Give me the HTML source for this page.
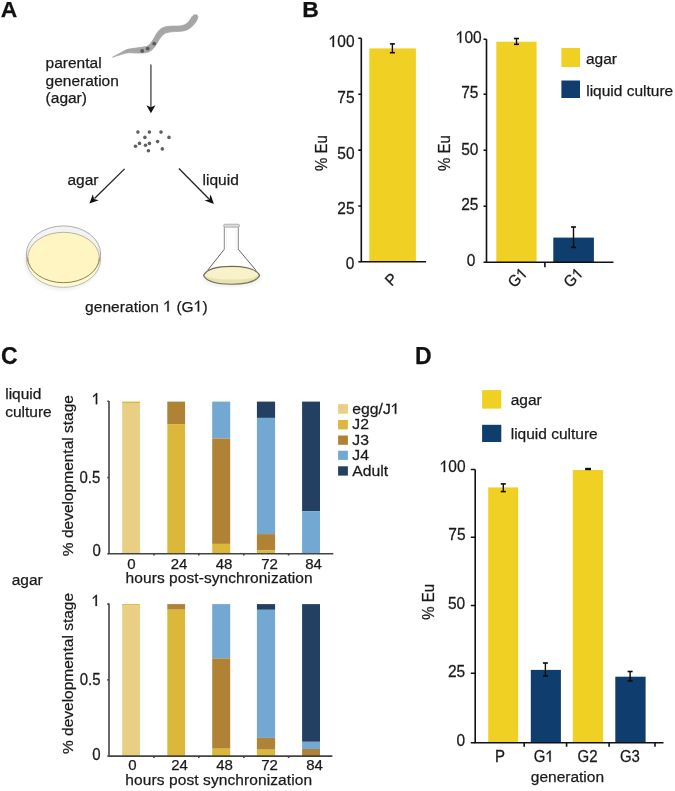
<!DOCTYPE html>
<html><head><meta charset="utf-8">
<style>
html,body{margin:0;padding:0;background:#fff;}
body{width:675px;height:791px;overflow:hidden;}
svg{display:block;filter:blur(0.3px);}
text{font-family:"Liberation Sans",sans-serif;fill:#1a1a1a;stroke:#1a1a1a;stroke-width:0.25px;}
.b{font-weight:bold;font-size:23px;fill:#111;}
.t{font-size:15.5px;}
.k{font-size:15.5px;}
.l{font-size:15px;}
.h{fill:none !important;stroke:none !important;}
</style></head>
<body>
<svg width="675" height="791" viewBox="0 0 675 791">
<defs><filter id="sh" x="-20%" y="-20%" width="140%" height="140%"><feGaussianBlur stdDeviation="1.6"/></filter></defs>
<!-- Panel labels -->
<text class="b" x="0.8" y="16.8" style="font-size:22.9px">A</text>
<text class="b" x="302.3" y="16.7" style="font-size:22.9px">B</text>
<text class="b" x="1.1" y="363.5">C</text>
<text class="b" x="415" y="363.7">D</text>

<!-- ============ PANEL A ============ -->
<!-- worm -->
<path d="M112.5,57.2 C118,54.5 122,52 126.7,49.6 C131,48.4 141,47.6 146.3,46.6 C149,45.8 151,43 153.6,38.9 C155.5,35.5 157,32.5 158.5,31 C160,29.2 162,27.8 165,26.9 C169,25.9 174,26.1 177,26.1 C181,26.1 184,25.3 186.3,23.8 C188.7,22.2 190.2,19.5 192.2,16.4 C193.2,15 194.8,14.6 195.9,14.7 C197.5,14.9 198.3,16.2 197.8,17.6 C197,20.5 195.5,23 193.5,25 C191.5,27.2 189,29 186,30.2 C183,31.3 179,31.4 174.4,31.6 C170,31.8 166,32.5 163.9,34.1 C161.5,36 159.5,39 157.8,41.8 C156,45 154.5,47.8 151.5,50.2 C148.5,52.6 145,53 140.6,53.1 C135,53.1 131,52.6 128.4,52.8 C124,53.3 120,55 112.5,57.2 Z" fill="#a6a6a6" stroke="#a6a6a6" stroke-width="0.8" stroke-linejoin="round"/>
<circle cx="142.2" cy="50.9" r="1.9" fill="#5a5a5a"/>
<circle cx="147.7" cy="48.6" r="1.9" fill="#5a5a5a"/>
<circle cx="154.2" cy="43.6" r="1.9" fill="#5a5a5a"/>

<text transform="translate(45.6,67.6)" class="t">parental</text>
<text transform="translate(45.6,86.2)" class="t">generation</text>
<text transform="translate(45.6,103.2)" class="t">(agar)</text>

<!-- vertical arrow -->
<line x1="150.9" y1="64.4" x2="150.9" y2="107" stroke="#666" stroke-width="1.6"/>
<path d="M146.4,105.3 L150.9,113.2 L155.5,105.3 L150.9,107.3 Z" fill="#111"/>

<!-- eggs -->
<g fill="#606060">
<circle cx="137.9" cy="132.1" r="1.8"/>
<circle cx="149.4" cy="132.1" r="1.8"/>
<circle cx="161" cy="132.1" r="1.8"/>
<circle cx="144.9" cy="137.4" r="1.8"/>
<circle cx="169" cy="137.4" r="1.8"/>
<circle cx="157.6" cy="141.6" r="1.8"/>
<circle cx="139.5" cy="143.4" r="1.8"/>
<circle cx="149.4" cy="143.4" r="1.8"/>
<circle cx="145.5" cy="145.3" r="1.8"/>
<circle cx="135.5" cy="146.2" r="1.8"/>
<circle cx="162.3" cy="148.9" r="1.8"/>
<circle cx="148.4" cy="150.8" r="1.8"/>
</g>

<!-- diagonal arrows -->
<line x1="124.6" y1="168.9" x2="94.5" y2="198.5" stroke="#222" stroke-width="1.3"/>
<path d="M89.4,203.6 L92.85,194.3 L94.0,199.0 L98.75,200.3 Z" fill="#111"/>
<line x1="178.9" y1="168.5" x2="208.8" y2="198.8" stroke="#222" stroke-width="1.3"/>
<path d="M213.9,203.9 L204.6,200.45 L209.3,199.3 L210.6,194.55 Z" fill="#111"/>

<text transform="translate(67.5,184.8)" class="t">agar</text>
<text transform="translate(202.6,184.7)" class="t">liquid</text>

<!-- petri dish -->
<ellipse cx="62.5" cy="261" rx="38.5" ry="29.5" fill="#000" opacity="0.05" filter="url(#sh)"/>
<ellipse cx="63.5" cy="259.3" rx="37.1" ry="28.1" fill="#fdf8d2" stroke="#b8b6a8" stroke-width="0.9"/>
<ellipse cx="63.5" cy="254" rx="37.1" ry="28.1" fill="#f3f3f1" stroke="#a6a6a6" stroke-width="0.9"/>
<ellipse cx="63.5" cy="257.5" rx="35.8" ry="25.2" fill="#fff5c3"/>
<path d="M27.7,257.5 A35.8,25.2 0 0 1 99.3,257.5" fill="none" stroke="#a9a9a6" stroke-width="0.9"/>
<path d="M27.7,257.5 A35.8,25.2 0 0 0 99.3,257.5" fill="none" stroke="#87845f" stroke-width="1"/>
<!-- flask -->
<ellipse cx="231.6" cy="279" rx="29" ry="8" fill="#000" opacity="0.06" filter="url(#sh)"/>
<path d="M224.3,227.2 L224.3,249.3 M238.3,227.2 L238.3,249.3" fill="none" stroke="#7a7a7a" stroke-width="0.9"/>
<path d="M224.3,249.3 L207.6,270.3 M238.3,249.3 L256,270.3" fill="none" stroke="#4e4e4e" stroke-width="0.9"/>
<path d="M226.6,229 V248 M236,229 V248" stroke="#f0f0f0" stroke-width="0.9"/>
<rect x="223.6" y="224.2" width="16" height="3" rx="1.4" fill="#dadada" stroke="#8f8f8f" stroke-width="0.6"/>
<path d="M203.5,275.5 C207,268.2 220,266.4 231.6,266.4 C243,266.4 256,268.2 259.7,275.5 C256,282.3 244,284.2 231.6,284.2 C219,284.2 207,282.3 203.5,275.5 Z" fill="#e8e2ad" stroke="#6f6d5a" stroke-width="1.1"/>
<path d="M205.2,275 C208,268.9 220,267.4 231.6,267.4 C243,267.4 255,268.9 258,275 C255,278.6 244,279.5 231.6,279.5 C219,279.5 208.2,278.6 205.2,275 Z" fill="#f7f2c9"/>
<text transform="translate(85,311.6)" class="t" textLength="122.6" lengthAdjust="spacing">generation <tspan class="h">1</tspan> (G<tspan class="h">1</tspan>)</text>

<!-- ============ PANEL B ============ -->
<!-- left chart -->
<rect x="369.3" y="48.4" width="46.6" height="213.3" fill="#efd023"/>
<g stroke="#111" stroke-width="1.6" fill="none">
<path d="M361.3,38.2 L361.3,261.7 L426.1,261.7"/>
<path d="M358.3,38.2 H361.3 M358.3,94.2 H361.3 M358.3,150.1 H361.3 M358.3,206 H361.3 M358.3,261.7 H361.3"/>
</g>
<path d="M392.40,43.90 V52.70" stroke="#0d0d0d" stroke-width="1.40"/><rect x="389.90" y="43.10" width="5.00" height="1.60" fill="#0d0d0d"/><rect x="389.90" y="51.90" width="5.00" height="1.60" fill="#0d0d0d"/>
<g class="k" text-anchor="end">
<text transform="translate(354.5,47.1) scale(1,1.06)"><tspan class="h">1</tspan>00</text>
<text transform="translate(354.5,103.1) scale(1,1.06)">75</text>
<text transform="translate(354.5,158.5) scale(1,1.06)">50</text>
<text transform="translate(354.5,213.8) scale(1,1.06)">25</text>
<text transform="translate(354.5,269.1) scale(1,1.06)">0</text>
</g>
<text class="l" transform="translate(327,153) rotate(-90) scale(1,1.06)" text-anchor="middle">% Eu</text>
<text class="l" transform="translate(391.3,279.5) rotate(-45) scale(1,1.06)" text-anchor="middle" dy="5">P</text>

<!-- right chart -->
<rect x="496.3" y="41.7" width="40.3" height="220.5" fill="#efd023"/>
<rect x="553.3" y="237.6" width="40.6" height="24.6" fill="#0f3d6d"/>
<g stroke="#111" stroke-width="1.6" fill="none">
<path d="M486.5,39.2 L486.5,262.3 L613.5,262.3"/>
<path d="M483.5,39.2 H486.5 M483.5,94.3 H486.5 M483.5,150.3 H486.5 M483.5,206.3 H486.5 M483.5,262.3 H486.5"/>
<path d="M544.9,262.3 V267.3"/>
</g>
<path d="M516.50,38.50 V44.30" stroke="#0d0d0d" stroke-width="1.40"/><rect x="514.00" y="37.70" width="5.00" height="1.60" fill="#0d0d0d"/><rect x="514.00" y="43.50" width="5.00" height="1.60" fill="#0d0d0d"/>
<path d="M573.50,227.00 V247.40" stroke="#0d0d0d" stroke-width="1.40"/><rect x="571.00" y="226.20" width="5.00" height="1.60" fill="#0d0d0d"/><rect x="571.00" y="246.60" width="5.00" height="1.60" fill="#0d0d0d"/>
<g class="k" text-anchor="end">
<text transform="translate(481.7,42.7) scale(1,1.06)"><tspan class="h">1</tspan>00</text>
<text transform="translate(478.4,97.9) scale(1,1.06)">75</text>
<text transform="translate(478.4,155) scale(1,1.06)">50</text>
<text transform="translate(478.4,209.9) scale(1,1.06)">25</text>
<text transform="translate(475.3,266.1) scale(1,1.06)">0</text>
</g>
<text class="l" transform="translate(449.5,153) rotate(-90) scale(1,1.06)" text-anchor="middle">% Eu</text>
<text class="l" transform="translate(517.5,277.7) rotate(-45) scale(1,1.06)" text-anchor="middle" dy="5">G<tspan class="h">1</tspan></text>
<text class="l" transform="translate(573.3,277.7) rotate(-45) scale(1,1.06)" text-anchor="middle" dy="5">G<tspan class="h">1</tspan></text>

<!-- legend B -->
<rect x="561.4" y="48" width="18.6" height="19" fill="#efd023"/>
<rect x="561.4" y="80.5" width="18.6" height="17.5" fill="#0f3d6d"/>
<text transform="translate(586,63.9)" class="t">agar</text>
<text transform="translate(586.2,95.8)" class="t">liquid culture</text>

<!-- ============ PANEL C ============ -->
<text transform="translate(5.2,398.7)" class="t">liquid</text>
<text transform="translate(5.2,417.3)" class="t">culture</text>
<text transform="translate(11.7,584.7)" class="t">agar</text>

<!-- top chart bars -->
<g>
<rect x="122.2" y="401.6" width="17.8" height="1.5" fill="#dcb83a"/>
<rect x="122.2" y="403" width="17.8" height="150.5" fill="#e9cf84"/>

<rect x="167.3" y="401.6" width="17.8" height="22.5" fill="#b08236"/>
<rect x="167.3" y="424.1" width="17.8" height="129.4" fill="#dcb83a"/>

<rect x="212.2" y="401.6" width="18" height="36.9" fill="#73a8d3"/>
<rect x="212.2" y="438.5" width="18" height="105.4" fill="#b08236"/>
<rect x="212.2" y="543.9" width="18" height="9.6" fill="#dcb83a"/>

<rect x="256.9" y="401.6" width="18.2" height="16.3" fill="#233f61"/>
<rect x="256.9" y="417.9" width="18.2" height="116.2" fill="#73a8d3"/>
<rect x="256.9" y="534.1" width="18.2" height="16.4" fill="#b08236"/>
<rect x="256.9" y="550.5" width="18.2" height="3" fill="#dcb83a"/>

<rect x="302.1" y="401.6" width="17.9" height="109.6" fill="#233f61"/>
<rect x="302.1" y="511.2" width="17.9" height="42.3" fill="#73a8d3"/>
</g>
<g stroke="#444" stroke-width="1.6" fill="none">
<path d="M109,401.1 L109,553.7 L333.3,553.7"/>
<path d="M107.3,401.3 H109 M107.3,477.5 H109 M107.3,553.7 H109"/>
<path d="M154,553.7 V555.6 M198.8,553.7 V555.6 M243.8,553.7 V555.6 M288.6,553.7 V555.6"/>
</g>
<g class="l" text-anchor="end">
<text transform="translate(100.3,404.2) scale(1,1.06)"><tspan class="h">1</tspan></text>
<text transform="translate(100.3,483.4) scale(1,1.06)">0.5</text>
<text transform="translate(100.8,556.4) scale(1,1.06)">0</text>
</g>
<g class="l" text-anchor="middle">
<text transform="translate(131.5,568.7)">0</text>
<text transform="translate(179.1,568.7)">24</text>
<text transform="translate(224,568.7)">48</text>
<text transform="translate(269.5,568.7)">72</text>
<text transform="translate(313.5,568.7)">84</text>
</g>
<text transform="translate(125.6,583)" class="t" textLength="187" lengthAdjust="spacing">hours post-synchronization</text>
<text class="t" transform="translate(73.1,475.6) rotate(-90)" text-anchor="middle">% developmental stage</text>

<!-- legend C -->
<rect x="338.1" y="404.1" width="9.8" height="9.6" fill="#e9cf84"/>
<rect x="338.1" y="420" width="9.8" height="9.4" fill="#dcb83a"/>
<rect x="338.1" y="435.5" width="9.8" height="9.3" fill="#b08236"/>
<rect x="338.1" y="450.7" width="9.8" height="9.2" fill="#73a8d3"/>
<rect x="338.1" y="466.3" width="9.8" height="9.3" fill="#233f61"/>
<g class="l">
<text transform="translate(352.3,413.8) scale(1.05,1)">egg/J<tspan class="h">1</tspan></text>
<text transform="translate(352.3,429.3) scale(1.05,1)">J2</text>
<text transform="translate(352.3,444.8) scale(1.05,1)">J3</text>
<text transform="translate(352.3,460) scale(1.05,1)">J4</text>
<text transform="translate(352.3,475.6) scale(1.05,1)">Adult</text>
</g>

<!-- bottom chart bars -->
<g>
<rect x="122.2" y="604.1" width="17.8" height="1.5" fill="#dcb83a"/>
<rect x="122.2" y="605.6" width="17.8" height="150.4" fill="#e9cf84"/>

<rect x="167.3" y="604.1" width="17.8" height="5.6" fill="#b08236"/>
<rect x="167.3" y="609.7" width="17.8" height="146.3" fill="#dcb83a"/>

<rect x="212.2" y="604.1" width="18" height="54.3" fill="#73a8d3"/>
<rect x="212.2" y="658.4" width="18" height="90.3" fill="#b08236"/>
<rect x="212.2" y="748.7" width="18" height="7.3" fill="#dcb83a"/>

<rect x="256.9" y="604.1" width="18.2" height="5.7" fill="#233f61"/>
<rect x="256.9" y="609.8" width="18.2" height="128.1" fill="#73a8d3"/>
<rect x="256.9" y="737.9" width="18.2" height="11.8" fill="#b08236"/>
<rect x="256.9" y="749.7" width="18.2" height="6.3" fill="#dcb83a"/>

<rect x="302.1" y="604.1" width="17.9" height="137.7" fill="#233f61"/>
<rect x="302.1" y="741.8" width="17.9" height="7.2" fill="#73a8d3"/>
<rect x="302.1" y="749" width="17.9" height="7" fill="#b08236"/>
</g>
<g stroke="#444" stroke-width="1.6" fill="none">
<path d="M109,603.6 L109,756.1 L332.4,756.1"/>
<path d="M107.3,604.1 H109 M107.3,679.9 H109 M107.3,756 H109"/>
<path d="M154,756.1 V758 M198.8,756.1 V758 M243.8,756.1 V758 M288.6,756.1 V758"/>
</g>
<g class="l" text-anchor="end">
<text transform="translate(100,606) scale(1,1.06)"><tspan class="h">1</tspan></text>
<text transform="translate(100.5,685) scale(1,1.06)">0.5</text>
<text transform="translate(100.7,760) scale(1,1.06)">0</text>
</g>
<g class="l" text-anchor="middle">
<text transform="translate(132.3,770.2)">0</text>
<text transform="translate(179.5,770.2)">24</text>
<text transform="translate(224.5,770.2)">48</text>
<text transform="translate(269.5,770.2)">72</text>
<text transform="translate(314.5,770.2)">84</text>
</g>
<text transform="translate(125.3,785.2)" class="t" textLength="186.8" lengthAdjust="spacing">hours post synchronization</text>
<text class="t" transform="translate(73.1,673.5) rotate(-90)" text-anchor="middle">% developmental stage</text>

<!-- ============ PANEL D ============ -->
<rect x="482.1" y="390.1" width="19.2" height="18.5" fill="#efd023"/>
<rect x="482.1" y="424.8" width="19.2" height="17.2" fill="#0f3d6d"/>
<text transform="translate(510.7,404.9)" class="t">agar</text>
<text transform="translate(510.7,439)" class="t">liquid culture</text>

<rect x="488.2" y="487.4" width="29.9" height="255.5" fill="#efd023"/>
<rect x="530.8" y="669.9" width="30.1" height="73" fill="#0f3d6d"/>
<rect x="572.8" y="470" width="30.3" height="272.9" fill="#efd023"/>
<rect x="615.3" y="676.7" width="30.3" height="66.2" fill="#0f3d6d"/>
<g stroke="#111" stroke-width="1.6" fill="none">
<path d="M475.2,469.5 L475.2,742.7 L663.5,742.7"/>
<path d="M470.8,469.5 H475.2 M470.8,537.2 H475.2 M470.8,605.5 H475.2 M470.8,673.3 H475.2 M470.8,742.7 H475.2"/>
<path d="M524.2,742.7 V746.8 M566.6,742.7 V746.8 M609.1,742.7 V746.8 M655,742.7 V746.8"/>
</g>
<path d="M503.30,483.90 V491.60" stroke="#0d0d0d" stroke-width="1.40"/><rect x="500.80" y="483.10" width="5.00" height="1.60" fill="#0d0d0d"/><rect x="500.80" y="490.80" width="5.00" height="1.60" fill="#0d0d0d"/>
<path d="M545.40,663.00 V676.00" stroke="#0d0d0d" stroke-width="1.40"/><rect x="542.90" y="662.20" width="5.00" height="1.60" fill="#0d0d0d"/><rect x="542.90" y="675.20" width="5.00" height="1.60" fill="#0d0d0d"/>
<rect x="585.2" y="467.8" width="5.8" height="2.4" fill="#0d0d0d"/>
<path d="M630.10,671.50 V680.90" stroke="#0d0d0d" stroke-width="1.40"/><rect x="627.60" y="670.70" width="5.00" height="1.60" fill="#0d0d0d"/><rect x="627.60" y="680.10" width="5.00" height="1.60" fill="#0d0d0d"/>
<g class="k" text-anchor="end">
<text transform="translate(465.6,472.1) scale(1,1.06)"><tspan class="h">1</tspan>00</text>
<text transform="translate(465.6,540.4) scale(1,1.06)">75</text>
<text transform="translate(465.2,609.1) scale(1,1.06)">50</text>
<text transform="translate(465.2,677.3) scale(1,1.06)">25</text>
<text transform="translate(465.2,745.9) scale(1,1.06)">0</text>
</g>
<text class="l" transform="translate(434.3,601.9) rotate(-90) scale(1,1.06)" text-anchor="middle">% Eu</text>
<g class="l" text-anchor="middle">
<text transform="translate(500,761.5) scale(1,1.06)">P</text>
<text transform="translate(543.8,761.7) scale(1,1.06)">G<tspan class="h">1</tspan></text>
<text transform="translate(587.5,761.7) scale(1,1.06)">G2</text>
<text transform="translate(629.9,761.7) scale(1,1.06)">G3</text>
</g>
<text transform="translate(530.8,782.2)" class="t">generation</text>
<!-- ones -->
<g transform="translate(85,311.6)"><path transform="translate(78.32,0.00) scale(0.01550,-0.01550)" d="M350,0 L350,700 L298,700 L68,508 L90,442 L256,584 L256,0 Z" fill="#1a1a1a" stroke="#1a1a1a" stroke-width="0.25" vector-effect="non-scaling-stroke"/></g>
<g transform="translate(85,311.6)"><path transform="translate(108.74,0.00) scale(0.01550,-0.01550)" d="M350,0 L350,700 L298,700 L68,508 L90,442 L256,584 L256,0 Z" fill="#1a1a1a" stroke="#1a1a1a" stroke-width="0.25" vector-effect="non-scaling-stroke"/></g>
<g transform="translate(354.5,47.1) scale(1,1.06)"><path transform="translate(-25.87,0.00) scale(0.01550,-0.01550)" d="M350,0 L350,700 L298,700 L68,508 L90,442 L256,584 L256,0 Z" fill="#1a1a1a" stroke="#1a1a1a" stroke-width="0.25" vector-effect="non-scaling-stroke"/></g>
<g transform="translate(481.7,42.7) scale(1,1.06)"><path transform="translate(-25.87,0.00) scale(0.01550,-0.01550)" d="M350,0 L350,700 L298,700 L68,508 L90,442 L256,584 L256,0 Z" fill="#1a1a1a" stroke="#1a1a1a" stroke-width="0.25" vector-effect="non-scaling-stroke"/></g>
<g transform="translate(517.5,277.7) rotate(-45) scale(1,1.06)"><path transform="translate(1.66,5.00) scale(0.01500,-0.01500)" d="M350,0 L350,700 L298,700 L68,508 L90,442 L256,584 L256,0 Z" fill="#1a1a1a" stroke="#1a1a1a" stroke-width="0.25" vector-effect="non-scaling-stroke"/></g>
<g transform="translate(573.3,277.7) rotate(-45) scale(1,1.06)"><path transform="translate(1.66,5.00) scale(0.01500,-0.01500)" d="M350,0 L350,700 L298,700 L68,508 L90,442 L256,584 L256,0 Z" fill="#1a1a1a" stroke="#1a1a1a" stroke-width="0.25" vector-effect="non-scaling-stroke"/></g>
<g transform="translate(100.3,404.2) scale(1,1.06)"><path transform="translate(-8.34,0.00) scale(0.01500,-0.01500)" d="M350,0 L350,700 L298,700 L68,508 L90,442 L256,584 L256,0 Z" fill="#1a1a1a" stroke="#1a1a1a" stroke-width="0.25" vector-effect="non-scaling-stroke"/></g>
<g transform="translate(352.3,413.8) scale(1.05,1)"><path transform="translate(36.65,0.00) scale(0.01500,-0.01500)" d="M350,0 L350,700 L298,700 L68,508 L90,442 L256,584 L256,0 Z" fill="#1a1a1a" stroke="#1a1a1a" stroke-width="0.25" vector-effect="non-scaling-stroke"/></g>
<g transform="translate(100,606) scale(1,1.06)"><path transform="translate(-8.34,0.00) scale(0.01500,-0.01500)" d="M350,0 L350,700 L298,700 L68,508 L90,442 L256,584 L256,0 Z" fill="#1a1a1a" stroke="#1a1a1a" stroke-width="0.25" vector-effect="non-scaling-stroke"/></g>
<g transform="translate(465.6,472.1) scale(1,1.06)"><path transform="translate(-25.87,0.00) scale(0.01550,-0.01550)" d="M350,0 L350,700 L298,700 L68,508 L90,442 L256,584 L256,0 Z" fill="#1a1a1a" stroke="#1a1a1a" stroke-width="0.25" vector-effect="non-scaling-stroke"/></g>
<g transform="translate(543.8,761.7) scale(1,1.06)"><path transform="translate(1.66,0.00) scale(0.01500,-0.01500)" d="M350,0 L350,700 L298,700 L68,508 L90,442 L256,584 L256,0 Z" fill="#1a1a1a" stroke="#1a1a1a" stroke-width="0.25" vector-effect="non-scaling-stroke"/></g>
</svg>
</body></html>
